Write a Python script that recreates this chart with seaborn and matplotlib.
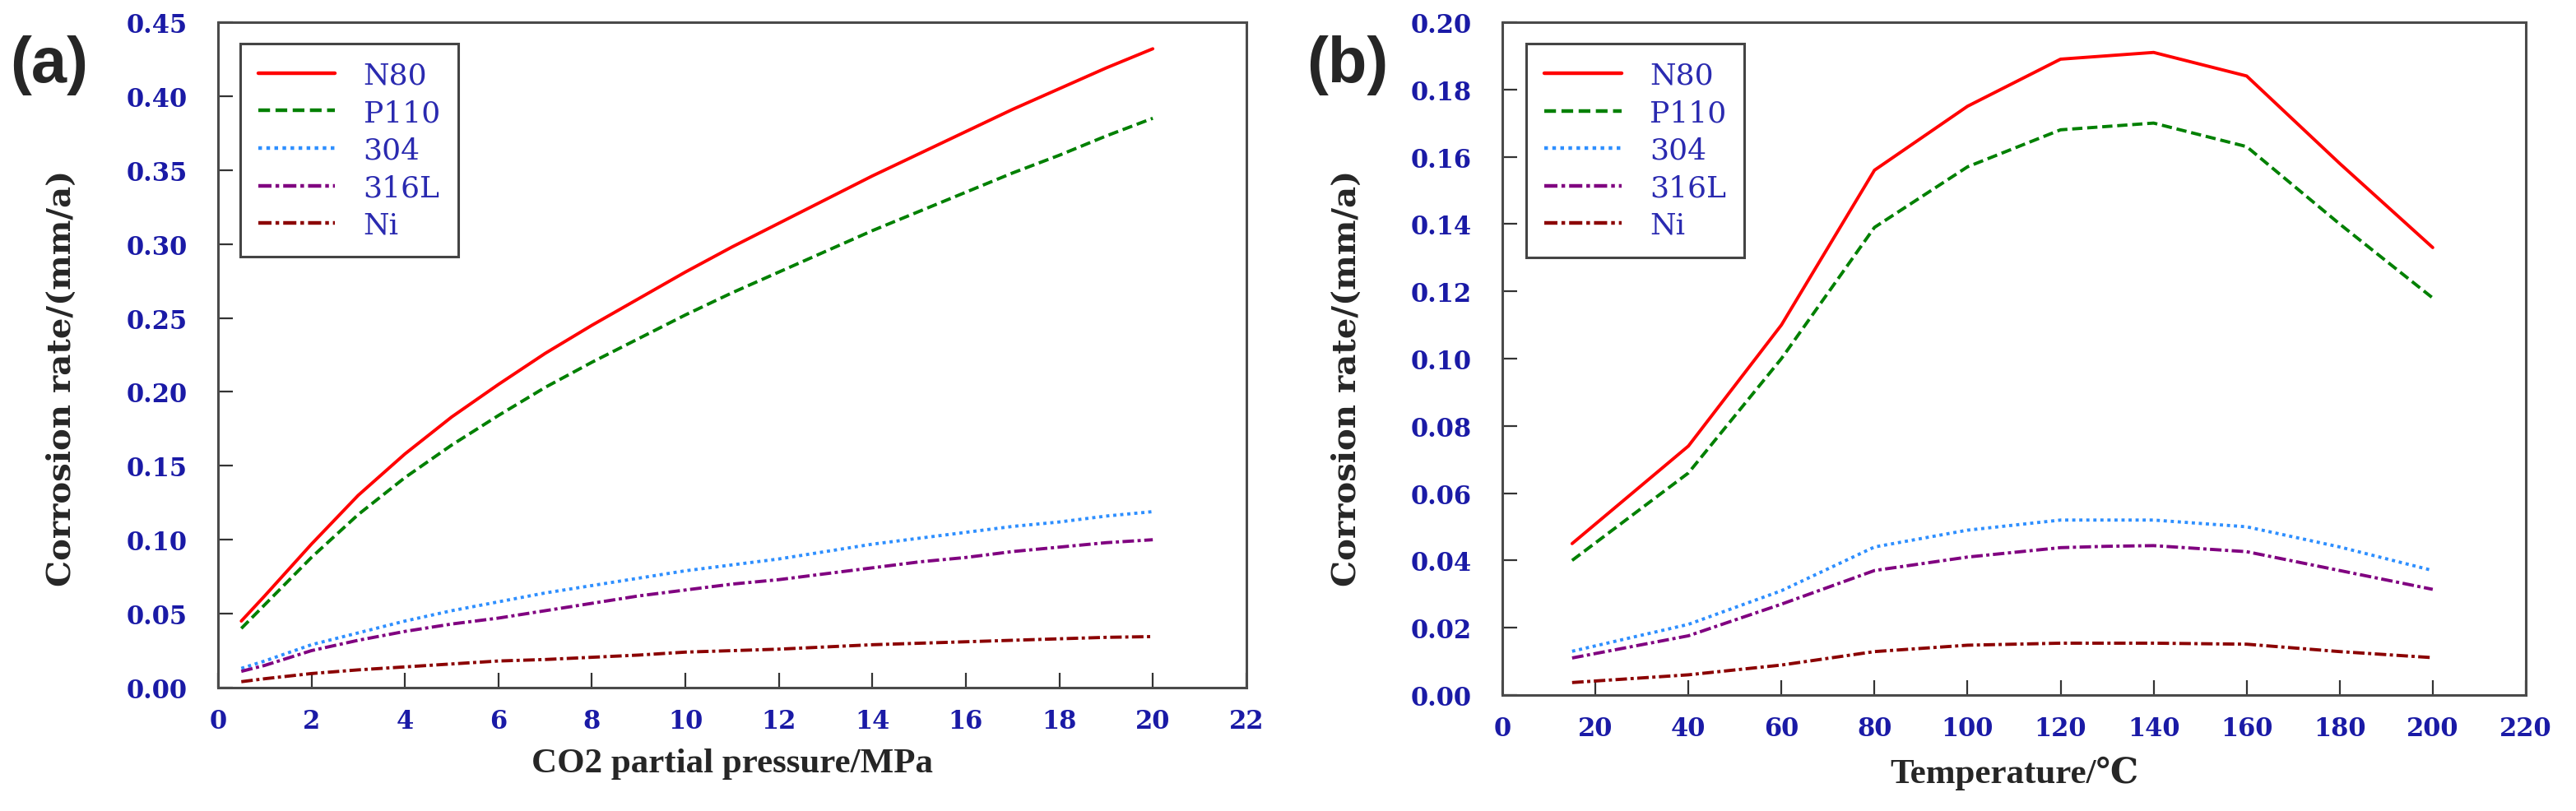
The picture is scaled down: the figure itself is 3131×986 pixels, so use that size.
import numpy as np
import pandas as pd
import seaborn as sns
import matplotlib.pyplot as plt
from matplotlib.ticker import FormatStrFormatter

# data
materials = ["N80", "P110", "304", "316L", "Ni"]

pressure = [0.5, 1, 2, 3, 4, 5, 6, 7, 8, 9, 10, 11, 12, 13, 14, 15, 16, 17, 18, 19, 20]
rate_p = {
    "N80":  [0.045, 0.062, 0.097, 0.130, 0.158, 0.183, 0.205, 0.226, 0.245, 0.263, 0.281,
             0.298, 0.314, 0.330, 0.346, 0.361, 0.376, 0.391, 0.405, 0.419, 0.432],
    "P110": [0.040, 0.056, 0.088, 0.117, 0.142, 0.164, 0.184, 0.203, 0.220, 0.236, 0.252,
             0.267, 0.281, 0.295, 0.309, 0.322, 0.335, 0.348, 0.360, 0.373, 0.385],
    "304":  [0.013, 0.018, 0.029, 0.037, 0.045, 0.052, 0.058, 0.064, 0.069, 0.074, 0.079,
             0.083, 0.087, 0.092, 0.097, 0.101, 0.105, 0.109, 0.112, 0.116, 0.119],
    "316L": [0.011, 0.015, 0.025, 0.032, 0.038, 0.043, 0.047, 0.052, 0.057, 0.062, 0.066,
             0.070, 0.073, 0.077, 0.081, 0.085, 0.088, 0.092, 0.095, 0.098, 0.100],
    "Ni":   [0.004, 0.006, 0.0095, 0.012, 0.014, 0.016, 0.018, 0.019, 0.0205, 0.022, 0.024,
             0.025, 0.026, 0.0275, 0.029, 0.030, 0.031, 0.032, 0.033, 0.034, 0.0345],
}

temperature = [15, 40, 60, 80, 100, 120, 130, 140, 160, 180, 200]
rate_t = {
    "N80":  [0.045, 0.074, 0.110, 0.156, 0.175, 0.189, 0.190, 0.191, 0.184, 0.158, 0.133],
    "P110": [0.040, 0.066, 0.100, 0.139, 0.157, 0.168, 0.169, 0.170, 0.163, 0.140, 0.118],
    "304":  [0.013, 0.021, 0.031, 0.044, 0.049, 0.052, 0.052, 0.052, 0.050, 0.044, 0.037],
    "316L": [0.011, 0.0176, 0.027, 0.037, 0.041, 0.0438, 0.0442, 0.0444, 0.0426, 0.037, 0.0314],
    "Ni":   [0.0037, 0.006, 0.0089, 0.0129, 0.0148, 0.0154, 0.0154, 0.0154, 0.0151, 0.0129, 0.0111],
}


def long_frame(xvals, series, xname):
    rows = []
    for m in materials:
        for x, y in zip(xvals, series[m]):
            rows.append({xname: x, "rate": y, "material": m})
    return pd.DataFrame(rows)


df_p = long_frame(pressure, rate_p, "pressure")
df_t = long_frame(temperature, rate_t, "temperature")

palette = {"N80": "#ff0000", "P110": "#008000", "304": "#2e8fff",
           "316L": "#800080", "Ni": "#8b0000"}
dashes = {"N80": "", "P110": (3.2, 1.5), "304": (1.0, 1.2),
          "316L": (3.6, 1.1, 1.0, 1.1), "Ni": (3.6, 1.1, 1.0, 1.1)}

sns.set_style("ticks")
plt.rcParams['font.family'] = ['DejaVu Serif']

fig = plt.figure(figsize=(31.31, 9.87), dpi=100)
ax_a = fig.add_axes([0.0846, 0.152, 0.3992, 0.8197])
ax_b = fig.add_axes([0.5832, 0.1429, 0.3973, 0.8288])

tick_blue = "#1a1aa6"
label_fonts = ["Liberation Serif", "DejaVu Serif", "DejaVu Sans"]


def style_panel(ax, df, xname, xlabel, xlim, xticks, ylim, yticks, leg_anchor, ylab_y):
    sns.lineplot(data=df, x=xname, y="rate", hue="material", style="material",
                 hue_order=materials, style_order=materials, palette=palette,
                 dashes=dashes, linewidth=2.8, errorbar=None, sort=False, ax=ax)
    ax.set_xlim(*xlim)
    ax.set_ylim(*ylim)
    ax.set_xticks(xticks)
    ax.set_yticks(yticks)
    ax.yaxis.set_major_formatter(FormatStrFormatter("%.2f"))
    for s in ax.spines.values():
        s.set_color("#4a4a4a")
        s.set_linewidth(2.2)
    ax.tick_params(direction="in", length=13, width=1.6, color="#333333",
                   labelsize=22, labelcolor=tick_blue)
    ax.tick_params(axis="x", pad=18)
    ax.tick_params(axis="y", pad=27)
    plt.setp(ax.get_xticklabels() + ax.get_yticklabels(), fontweight="bold")

    ax.set_xlabel(xlabel, fontsize=31, fontweight="bold", family=label_fonts)
    ax.xaxis.set_label_coords(0.5, -0.09)
    ax.set_ylabel("Corrosion rate/(mm/a)", fontsize=29, fontweight="bold")
    ax.yaxis.set_label_coords(-0.137, ylab_y)

    old = ax.get_legend()
    handles = old.legend_handles
    labels = [t.get_text() for t in old.get_texts()]
    old.remove()
    leg = ax.legend(handles, labels, loc="upper left", bbox_to_anchor=leg_anchor,
                    borderaxespad=0, frameon=True, fancybox=False, framealpha=1,
                    edgecolor="#444444", prop={"family": "DejaVu Serif", "size": 26},
                    handlelength=2.6, handletextpad=0.95, labelspacing=0.32, borderpad=0.6)
    leg.get_frame().set_linewidth(2.2)
    for t in leg.get_texts():
        t.set_color("#2a2ab0")
    for l in leg.get_lines():
        l.set_linewidth(3.2)


style_panel(ax_a, df_p, "pressure", "CO2 partial pressure/MPa", (0, 22), range(0, 23, 2),
            (0, 0.45), np.arange(0, 0.451, 0.05), (0.0216, 0.968), 0.466)
style_panel(ax_b, df_t, "temperature", "Temperature/\u2103", (0, 220), range(0, 221, 20),
            (0, 0.20), np.arange(0, 0.201, 0.02), (0.0233, 0.968), 0.472)

fig.text(12 / 3131, 1 - 80 / 987, "(a)", fontsize=56, fontweight="bold",
         family="Liberation Sans", va="center", ha="left")
fig.text(1588 / 3131, 1 - 80 / 987, "(b)", fontsize=56, fontweight="bold",
         family="Liberation Sans", va="center", ha="left")

fig.savefig("out.png", dpi=100)
